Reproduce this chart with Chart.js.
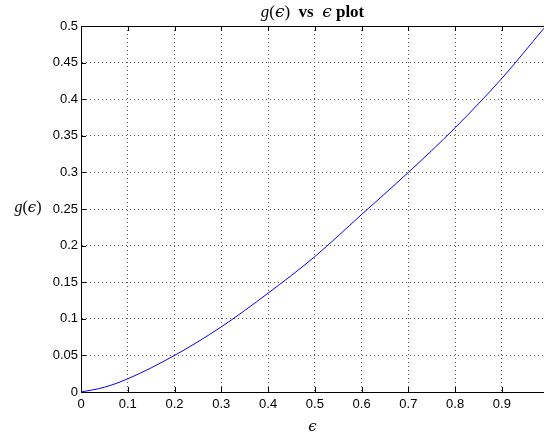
<!DOCTYPE html>
<html>
<head>
<meta charset="utf-8">
<script src="https://cdn.jsdelivr.net/npm/chart.js@4.4.1/dist/chart.umd.min.js"></script>
<style>
    html, body { margin: 0; padding: 0; background: #fff; }
    #wrap { width: 544px; height: 438px; position: relative; }
</style>
</head>
<body>
<div id="wrap"><canvas id="grafico"></canvas></div>
<script>
// Dados
const epsilon = [0, 0.05, 0.1, 0.2, 0.3, 0.4, 0.5, 0.6, 0.7, 0.8, 0.9, 0.99];
const gEps = [0, 0.0065, 0.018, 0.05, 0.089, 0.135, 0.185, 0.2425, 0.30, 0.361, 0.4285, 0.497];
const xTicks = [0, 0.1, 0.2, 0.3, 0.4, 0.5, 0.6, 0.7, 0.8, 0.9];
const yTicks = [0, 0.05, 0.1, 0.15, 0.2, 0.25, 0.3, 0.35, 0.4, 0.45, 0.5];

const pontos = epsilon.map((x, i) => ({ x: x, y: gEps[i] }));

// desenha pedaços de texto com fontes diferentes, centrados em cx
function textoMisto(ctx, partes, cx, y) {
    let total = 0;
    partes.forEach(p => { ctx.font = p.font; total += ctx.measureText(p.t).width; });
    let x = cx - total / 2;
    ctx.textAlign = 'left';
    ctx.textBaseline = 'alphabetic';
    partes.forEach(p => {
        ctx.font = p.font;
        ctx.fillText(p.t, x, y);
        x += ctx.measureText(p.t).width;
    });
}

const estiloMatlab = {
    id: 'estiloMatlab',
    afterDraw(chart) {
        const ctx = chart.ctx;
        const a = chart.chartArea;
        const sx = chart.scales.x, sy = chart.scales.y;
        ctx.save();
        ctx.strokeStyle = '#000';
        ctx.lineWidth = 1;
        // borda de cima
        ctx.beginPath();
        ctx.moveTo(a.left, a.top + 0.5);
        ctx.lineTo(a.right, a.top + 0.5);
        ctx.stroke();
        // ticks para dentro
        ctx.beginPath();
        xTicks.forEach(v => {
            const px = Math.round(sx.getPixelForValue(v)) + 0.5;
            ctx.moveTo(px, a.bottom); ctx.lineTo(px, a.bottom - 5);
            ctx.moveTo(px, a.top); ctx.lineTo(px, a.top + 5);
        });
        yTicks.forEach(v => {
            const py = Math.round(sy.getPixelForValue(v)) + 0.5;
            ctx.moveTo(a.left, py); ctx.lineTo(a.left + 5, py);
        });
        ctx.stroke();

        ctx.fillStyle = '#000';
        const cx = (a.left + a.right) / 2;
        // título
        textoMisto(ctx, [
            { t: 'g', font: 'italic 17px "Liberation Serif"' },
            { t: '(', font: '17px "Liberation Serif"' },
            { t: 'ϵ', font: 'italic 17px "DejaVu Serif"' },
            { t: ')', font: '17px "Liberation Serif"' },
            { t: '  vs  ', font: 'bold 17px "Liberation Serif"' },
            { t: 'ϵ', font: 'italic 17px "DejaVu Serif"' },
            { t: ' plot', font: 'bold 17px "Liberation Serif"' }
        ], cx, 17);
        // rótulo do eixo y
        textoMisto(ctx, [
            { t: 'g', font: 'italic 16px "Liberation Serif"' },
            { t: '(', font: '16px "Liberation Serif"' },
            { t: 'ϵ', font: 'italic 15px "DejaVu Serif"' },
            { t: ')', font: '16px "Liberation Serif"' }
        ], 28, 212);
        // rótulo do eixo x
        textoMisto(ctx, [
            { t: 'ϵ', font: 'italic 15px "DejaVu Serif"' }
        ], cx, 431);
        ctx.restore();
    }
};

new Chart(document.getElementById('grafico'), {
    type: 'line',
    data: {
        datasets: [{
            data: pontos,
            borderColor: '#0000ff',
            borderWidth: 1,
            pointRadius: 0,
            fill: false,
            cubicInterpolationMode: 'monotone'
        }]
    },
    options: {
        responsive: true,
        maintainAspectRatio: false,
        animation: false,
        layout: { padding: { top: 26, right: 0, bottom: 0, left: 0 } },
        plugins: {
            legend: { display: false },
            tooltip: { enabled: false }
        },
        scales: {
            x: {
                type: 'linear',
                min: 0,
                max: 0.99,
                afterBuildTicks: s => { s.ticks = xTicks.map(v => ({ value: v })); },
                afterFit: s => { s.height = 46; },
                ticks: {
                    color: '#000',
                    padding: 5,
                    font: { family: '"Liberation Sans"', size: 13 },
                    callback: v => String(+v.toFixed(2))
                },
                grid: {
                    color: '#555',
                    lineWidth: 1,
                    drawTicks: false,
                    tickBorderDash: [1, 3]
                },
                border: { color: '#000', width: 1, dash: [1, 3], display: true }
            },
            y: {
                min: 0,
                max: 0.5,
                afterBuildTicks: s => { s.ticks = yTicks.map(v => ({ value: v })); },
                afterFit: s => { s.width = 81; },
                ticks: {
                    color: '#000',
                    padding: 3,
                    font: { family: '"Liberation Sans"', size: 13 },
                    callback: v => String(+v.toFixed(2))
                },
                grid: {
                    color: '#555',
                    lineWidth: 1,
                    drawTicks: false
                },
                border: { color: '#000', width: 1, dash: [1, 3], display: true }
            }
        }
    },
    plugins: [estiloMatlab]
});
</script>
</body>
</html>
